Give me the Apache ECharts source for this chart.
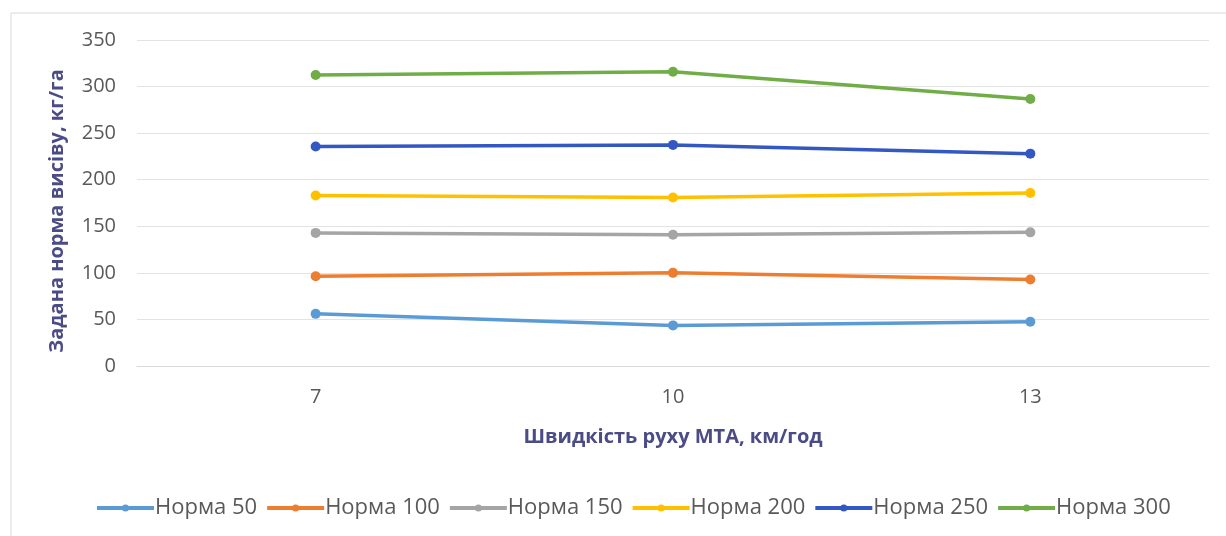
<!DOCTYPE html>
<html>
<head>
<meta charset="utf-8">
<script src="https://cdn.jsdelivr.net/npm/echarts@6/dist/echarts.min.js"></script>
<style>
    html, body { margin: 0; padding: 0; background: #fff; }
    #chart { width: 1226px; height: 536px; }
</style>
</head>
<body>
<div id="chart"></div>
<script>
let speeds = ['7', '10', '13'];
let series_names = ['Норма 50', 'Норма 100', 'Норма 150', 'Норма 200', 'Норма 250', 'Норма 300'];
let norma_50 = [56, 43.6, 47.5];
let norma_100 = [96.4, 100, 92.9];
let norma_150 = [142.9, 141, 143.5];
let norma_200 = [183, 181, 185.7];
let norma_250 = [235.6, 237.4, 228];
let norma_300 = [312.4, 316, 286.7];

let series_colors = ['#5B9BD5', '#ED7D31', '#A5A5A5', '#FFC000', '#3358C4', '#70AD47'];
let font = 'Open Sans, Noto Sans, sans-serif';

let chart = echarts.init(document.getElementById('chart'));

function make_series(name, values) {
    return {
        name: name,
        type: 'line',
        data: values,
        symbol: 'circle',
        symbolSize: 10,
        lineStyle: { width: 3.5 },
        emphasis: { disabled: true }
    };
}

chart.setOption({
    animation: false,
    color: series_colors,
    textStyle: { fontFamily: font },
    graphic: [
        {
            type: 'rect',
            shape: { x: 11, y: 13, width: 1240, height: 540 },
            style: { fill: 'none', stroke: '#d9d9d9', lineWidth: 1 },
            silent: true
        }
    ],
    grid: {
        left: 137,
        right: 17,
        top: 40,
        bottom: 170
    },
    legend: {
        top: 492,
        left: 90,
        itemWidth: 57,
        itemHeight: 9,
        itemGap: 8,
        lineStyle: { width: 4 },
        textStyle: { color: '#595959', fontSize: 22, fontFamily: font, padding: [0, 0, 0, -4] },
        data: series_names
    },
    xAxis: {
        type: 'category',
        data: speeds,
        name: 'Швидкість руху МТА, км/год',
        nameLocation: 'middle',
        nameGap: 61,
        nameTextStyle: { color: '#4b4b86', fontSize: 20, fontWeight: 'bold', fontFamily: font },
        axisLine: { lineStyle: { color: '#d9d9d9' } },
        axisTick: { show: false },
        axisLabel: { color: '#595959', fontSize: 20, margin: 21 }
    },
    yAxis: {
        type: 'value',
        min: 0,
        max: 350,
        interval: 50,
        name: 'Задана норма висіву, кг/га',
        nameLocation: 'middle',
        nameGap: 70,
        nameTextStyle: { color: '#4b4b86', fontSize: 20, fontWeight: 'bold', fontFamily: font, padding: [0, 16, 0, 0] },
        axisLine: { show: false },
        axisTick: { show: false },
        axisLabel: { color: '#595959', fontSize: 20, margin: 21 },
        splitLine: { lineStyle: { color: '#e3e3e3', width: 1 } }
    },
    series: [
        make_series(series_names[0], norma_50),
        make_series(series_names[1], norma_100),
        make_series(series_names[2], norma_150),
        make_series(series_names[3], norma_200),
        make_series(series_names[4], norma_250),
        make_series(series_names[5], norma_300)
    ]
});
</script>
</body>
</html>
